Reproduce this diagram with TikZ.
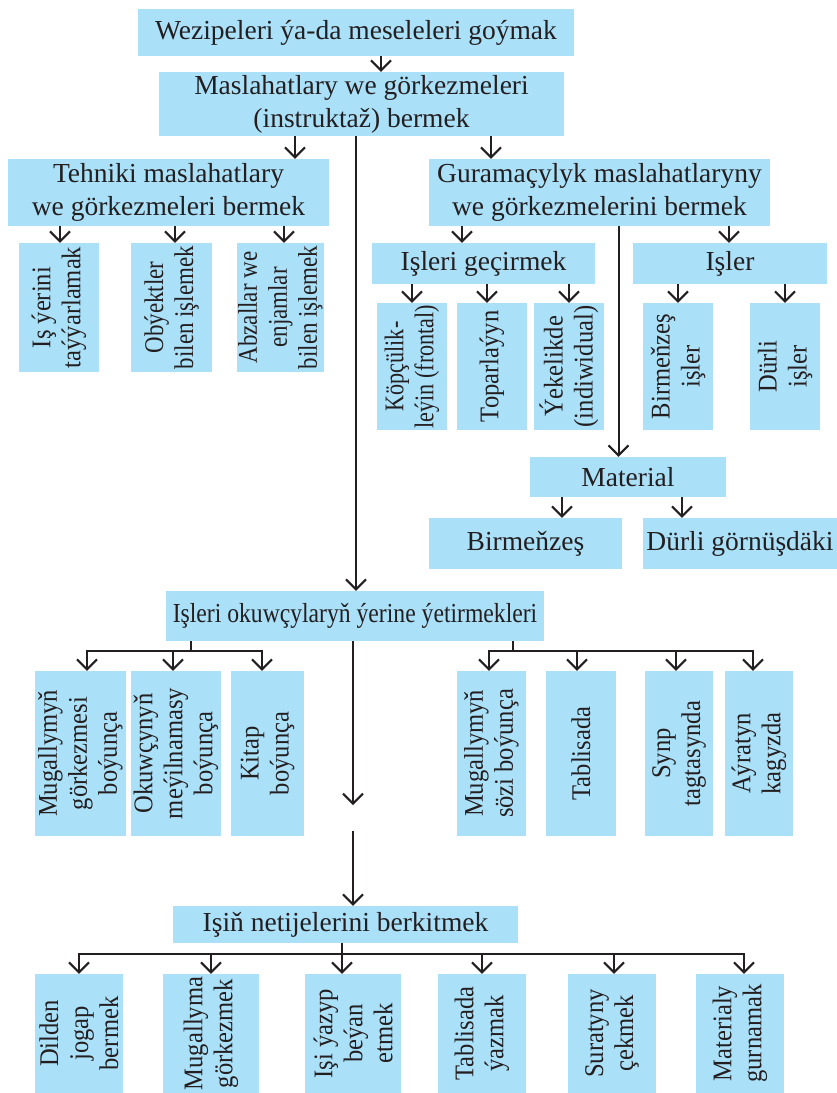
\documentclass[tikz,border=0pt]{standalone}
\usepackage{fontspec}
\setmainfont{Liberation Serif}
\newfontfamily\vfontA[FakeStretch=0.91]{Liberation Serif}
\newfontfamily\vfontB[FakeStretch=0.85]{Liberation Serif}
\newfontfamily\vfontC[FakeStretch=0.82]{Liberation Serif}
\newfontfamily\hfontN[FakeStretch=0.86]{Liberation Serif}
\usetikzlibrary{arrows.meta}
\definecolor{boxblue}{RGB}{171,224,249}
\definecolor{ink}{RGB}{35,31,32}
\begin{document}
\begin{tikzpicture}[x=1pt,y=-1pt,
  hbox/.style={fill=boxblue, draw=none, inner sep=0pt, align=center, text=ink,
    font=\fontsize{27.5}{33}\selectfont},
  hboxN/.style={hbox, font=\hfontN\fontsize{27.5}{33}\selectfont},
  vbox/.style={fill=boxblue, draw=none, inner sep=0pt, align=center, text=ink, rotate=90,
    font=\vfontA\fontsize{27}{30}\selectfont},
  vboxB/.style={vbox, font=\vfontB\fontsize{27}{30}\selectfont},
  vboxC/.style={vbox, font=\vfontC\fontsize{27}{30}\selectfont},
  ln/.style={draw=ink, line width=2pt},
  arr/.style={draw=ink, line width=2pt, -{Straight Barb[length=10pt,width=20pt]}}]
\useasboundingbox (0,0) rectangle (837,1093);
% horizontal boxes
\node[hbox, minimum width=436, minimum height=47] (b1) at (356,32.5) {Wezipeleri ýa-da meseleleri goýmak};
\node[hbox, minimum width=405, minimum height=64] (b2) at (361.5,104) {Maslahatlary we görkezmeleri\\(instruktaž) bermek};
\node[hbox, minimum width=321, minimum height=67] (b3) at (168.5,192.5) {Tehniki maslahatlary\\we görkezmeleri bermek};
\node[hbox, minimum width=341, minimum height=67] (b4) at (599.5,192.5) {Guramaçylyk maslahatlaryny\\we görkezmelerini bermek};
\node[hbox, minimum width=223, minimum height=41] (g1) at (483.5,263.5) {Işleri geçirmek};
\node[hbox, minimum width=194, minimum height=41] (g2) at (730,263.5) {Işler};
\node[hbox, minimum width=196, minimum height=40] (mat) at (628,477) {Material};
\node[hbox, minimum width=193, minimum height=51] (m1) at (525.5,543.5) {Birmeňzeş};
\node[hbox, minimum width=194, minimum height=51] (m2) at (740,543.5) {Dürli görnüşdäki};
\node[hboxN, minimum width=378, minimum height=50] (ok) at (355,616) {Işleri okuwçylaryň ýerine ýetirmekleri};
\node[hbox, minimum width=345, minimum height=37] (nb) at (345.5,924.5) {Işiň netijelerini berkitmek};
% vertical boxes (minimum width = vertical extent)
\node[vbox, minimum width=129, minimum height=80] (t1) at (59,307.5) {Iş ýerini\\taýýarlamak};
\node[vboxB, minimum width=129, minimum height=81] (t2) at (171.5,307.5) {Obýektler\\bilen işlemek};
\node[vboxB, minimum width=129, minimum height=87] (t3) at (280.5,307.5) {Abzallar we\\enjamlar\\bilen işlemek};
\node[vboxC, minimum width=127, minimum height=70] (k1) at (412,366.5) {Köpçülik-\\leýin (frontal)};
\node[vbox, minimum width=127, minimum height=70] (k2) at (492,366.5) {Toparlaýyn};
\node[vbox, minimum width=127, minimum height=70] (k3) at (569,366.5) {Ýekelikde\\(indiwidual)};
\node[vbox, minimum width=127, minimum height=70] (k4) at (678,366.5) {Birmeňzeş\\işler};
\node[vbox, minimum width=127, minimum height=70] (k5) at (785,366.5) {Dürli\\işler};
\node[vbox, minimum width=165, minimum height=91] (l1) at (80.5,753.5) {Mugallymyň\\görkezmesi\\boýunça};
\node[vbox, minimum width=165, minimum height=90] (l2) at (176,753.5) {Okuwçynyň\\meýilnamasy\\boýunça};
\node[vbox, minimum width=165, minimum height=73] (l3) at (267.5,753.5) {Kitap\\boýunça};
\node[vbox, minimum width=165, minimum height=69] (r1) at (491.5,753.5) {Mugallymyň\\sözi boýunça};
\node[vbox, minimum width=165, minimum height=70] (r2) at (581,753.5) {Tablisada};
\node[vbox, minimum width=165, minimum height=68] (r3) at (679,753.5) {Synp\\tagtasynda};
\node[vbox, minimum width=165, minimum height=68] (r4) at (759,753.5) {Aýratyn\\kagyzda};
\node[vbox, minimum width=119, minimum height=88] (d1) at (79,1033.5) {Dilden\\jogap\\bermek};
\node[vbox, minimum width=119, minimum height=96] (d2) at (211,1033.5) {Mugallyma\\görkezmek};
\node[vbox, minimum width=119, minimum height=96] (d3) at (353,1033.5) {Işi ýazyp\\beýan\\etmek};
\node[vbox, minimum width=119, minimum height=88] (d4) at (482,1033.5) {Tablisada\\ýazmak};
\node[vbox, minimum width=119, minimum height=88] (d5) at (612,1033.5) {Suratyny\\çekmek};
\node[vbox, minimum width=119, minimum height=88] (d6) at (740,1033.5) {Materialy\\gurnamak};
\coordinate (gapTop) at (353,805);
\coordinate (gapBot) at (353,831);
% connectors top part
\draw[arr] ([xshift=19.5]b2.north |- b1.south) -- ([xshift=19.5]b2.north);
\draw[arr] ([xshift=126.5]b3.north |- b2.south) -- ([xshift=126.5]b3.north);
\draw[arr] ([xshift=-108.5]b4.north |- b2.south) -- ([xshift=-108.5]b4.north);
\draw[arr] ([xshift=-5.5]b2.south) -- ([xshift=-5.5]b2.south |- ok.north);
\draw[arr] ([xshift=1]t1.east |- b3.south) -- ([xshift=1]t1.east);
\draw[arr] ([xshift=3.5]t2.east |- b3.south) -- ([xshift=3.5]t2.east);
\draw[arr] ([xshift=3.5]t3.east |- b3.south) -- ([xshift=3.5]t3.east);
\draw[arr] ([xshift=-21.5]g1.north |- b4.south) -- ([xshift=-21.5]g1.north);
\draw[arr] ([xshift=-1]g2.north |- b4.south) -- ([xshift=-1]g2.north);
\draw[arr] ([xshift=19]b4.south) -- ([xshift=19]b4.south |- mat.north);
\draw[arr] (k1.east |- g1.south) -- (k1.east);
\draw[arr] ([xshift=-5]k2.east |- g1.south) -- ([xshift=-5]k2.east);
\draw[arr] (k3.east |- g1.south) -- (k3.east);
\draw[arr] (k4.east |- g2.south) -- (k4.east);
\draw[arr] (k5.east |- g2.south) -- (k5.east);
\draw[arr] ([xshift=36.5]m1.north |- mat.south) -- ([xshift=36.5]m1.north);
\draw[arr] ([xshift=-58]m2.north |- mat.south) -- ([xshift=-58]m2.north);
% middle trees
\draw[ln] ([xshift=-164]ok.south) -- ++(0,10) coordinate (busL);
\draw[arr] (busL) -| ([xshift=6.5]l1.east);
\draw[arr] (busL) -| ([xshift=-3]l2.east);
\draw[arr] (busL) -| ([xshift=-5.5]l3.east);
\draw[ln] ([xshift=158]ok.south) -- ++(0,10) coordinate (busR);
\draw[arr] (busR) -| ([xshift=-2.5]r1.east);
\draw[arr] (busR) -| ([xshift=-4]r2.east);
\draw[arr] (busR) -| ([xshift=-3]r3.east);
\draw[arr] (busR) -| ([xshift=-6]r4.east);
\draw[arr] (gapTop |- ok.south) -- (gapTop);
\draw[arr] (gapBot) -- (gapBot |- nb.north);
% bottom tree
\draw[ln] ([xshift=-3.5]nb.south) -- ++(0,11) coordinate (busB);
\draw[arr] (busB) -| (d1.east);
\draw[arr] (busB) -| (d2.east);
\draw[arr] (busB) -| ([xshift=-11]d3.east);
\draw[arr] (busB) -| (d4.east);
\draw[arr] (busB) -| ([xshift=2]d5.east);
\draw[arr] (busB) -| ([xshift=4]d6.east);
\end{tikzpicture}
\end{document}
